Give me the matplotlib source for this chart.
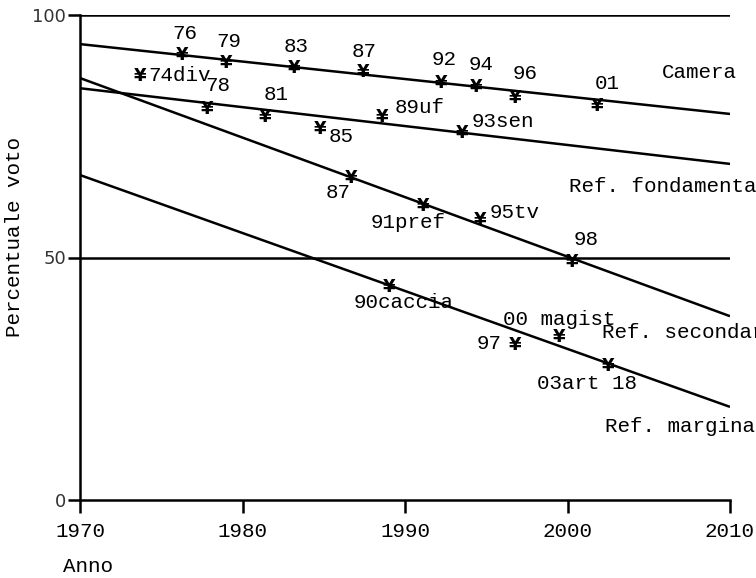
import matplotlib
matplotlib.use('Agg')
import matplotlib.pyplot as plt

MONO = 'Liberation Mono'

# trend lines: value at 1970 and at 2010
series_names = ['Camera', 'Ref. fondamentali', 'Ref. secondari', 'Ref. marginali']
trend_years = [1970, 2010]
trend_camera = [94.0, 79.6]
trend_fond = [84.9, 69.3]
trend_sec = [87.0, 37.9]
trend_marg = [67.0, 19.2]

# observed points
years_camera = [1976.3, 1979.0, 1983.2, 1987.4, 1992.2, 1994.4, 1996.8, 2001.8]
vals_camera = [91.8, 90.1, 89.1, 88.2, 86.0, 85.2, 82.9, 81.2]
labels_camera = ['76', '79', '83', '87', '92', '94', '96', '01']

years_fond = [1973.7, 1977.8, 1981.4, 1984.8, 1988.6, 1993.5]
vals_fond = [87.4, 80.6, 79.0, 76.5, 79.0, 75.7]
labels_fond = ['74div', '78', '81', '85', '89uf', '93sen']

years_sec = [1986.7, 1991.1, 1994.6, 2000.3]
vals_sec = [66.4, 60.6, 57.7, 49.1]
labels_sec = ['87', '91pref', '95tv', '98']

years_marg = [1989.0, 1996.8, 1999.5, 2002.5]
vals_marg = [43.9, 32.0, 33.6, 27.6]
labels_marg = ['90caccia', '97', '00 magist', '03art 18']

# label placement (alignment, dx, dy in pixels)
place_camera = [('center', 2, 21), ('center', 3, 22), ('center', 2, 21), ('center', 1, 21),
                ('center', 3, 23), ('center', 5, 22), ('center', 10, 24), ('center', 10, 23)]
place_fond = [('left', 8, 1), ('center', 11, 24), ('center', 11, 22), ('center', 21, -8),
              ('left', 12, 9), ('left', 10, 11)]
place_sec = [('center', -13, -15), ('center', -15, -16), ('left', 10, 8), ('center', 14, 22)]
place_marg = [('center', 15, -15), ('right', -14, 1), ('center', 0, 18), ('center', -21, -17)]
name_pos = [(2005.8, 88.2), (2000.1, 64.7), (2002.1, 34.6), (2002.3, 15.1)]

fig = plt.figure(figsize=(7.56, 5.78), dpi=100)
ax = fig.add_axes([80 / 756, 78 / 578, 650 / 756, 485 / 578])

lw = 1.8
for y in (50, 100):
    ax.axhline(y, color='black', lw=lw)

groups = [
    (trend_camera, years_camera, vals_camera, labels_camera, place_camera),
    (trend_fond, years_fond, vals_fond, labels_fond, place_fond),
    (trend_sec, years_sec, vals_sec, labels_sec, place_sec),
    (trend_marg, years_marg, vals_marg, labels_marg, place_marg),
]

for (trend, xs, ys, labs, places), name, npos in zip(groups, series_names, name_pos):
    ax.plot(trend_years, trend, color='black', lw=lw, solid_capstyle='butt')
    for x, y, lab, (ha, dx, dy) in zip(xs, ys, labs, places):
        # yen sign used as point marker
        ax.text(x, y, '\u00a5', ha='center', va='center', fontsize=13,
                family='DejaVu Sans', weight='bold')
        ax.annotate(lab, (x, y), xytext=(dx, dy), textcoords='offset pixels',
                    ha=ha, va='center', fontsize=15, family=MONO)
    ax.text(npos[0], npos[1], name, ha='left', va='center', fontsize=15,
            family=MONO, clip_on=False)

ax.set_xlim(1970, 2010)
ax.set_ylim(0, 100)
ax.set_xticks([1970, 1980, 1990, 2000, 2010])
ax.set_yticks([0, 50, 100])
for s in ['top', 'right']:
    ax.spines[s].set_visible(False)
for s in ['left', 'bottom']:
    ax.spines[s].set_linewidth(lw)
ax.tick_params(axis='x', length=9, width=lw, pad=7, labelsize=15)
ax.tick_params(axis='y', length=9, width=lw, pad=1, labelsize=13)
for t in ax.get_xticklabels():
    t.set_family(MONO)
for t in ax.get_yticklabels():
    t.set_family('DejaVu Sans')
    t.set_color('#333333')

fig.text(15 / 756, 1 - 237 / 578, 'Percentuale voto', rotation=90, ha='center',
         va='center', fontsize=15, family=MONO)
fig.text(63 / 756, 1 - 567 / 578, 'Anno', ha='left', va='center', fontsize=15, family=MONO)

fig.savefig('out.png', dpi=100)
